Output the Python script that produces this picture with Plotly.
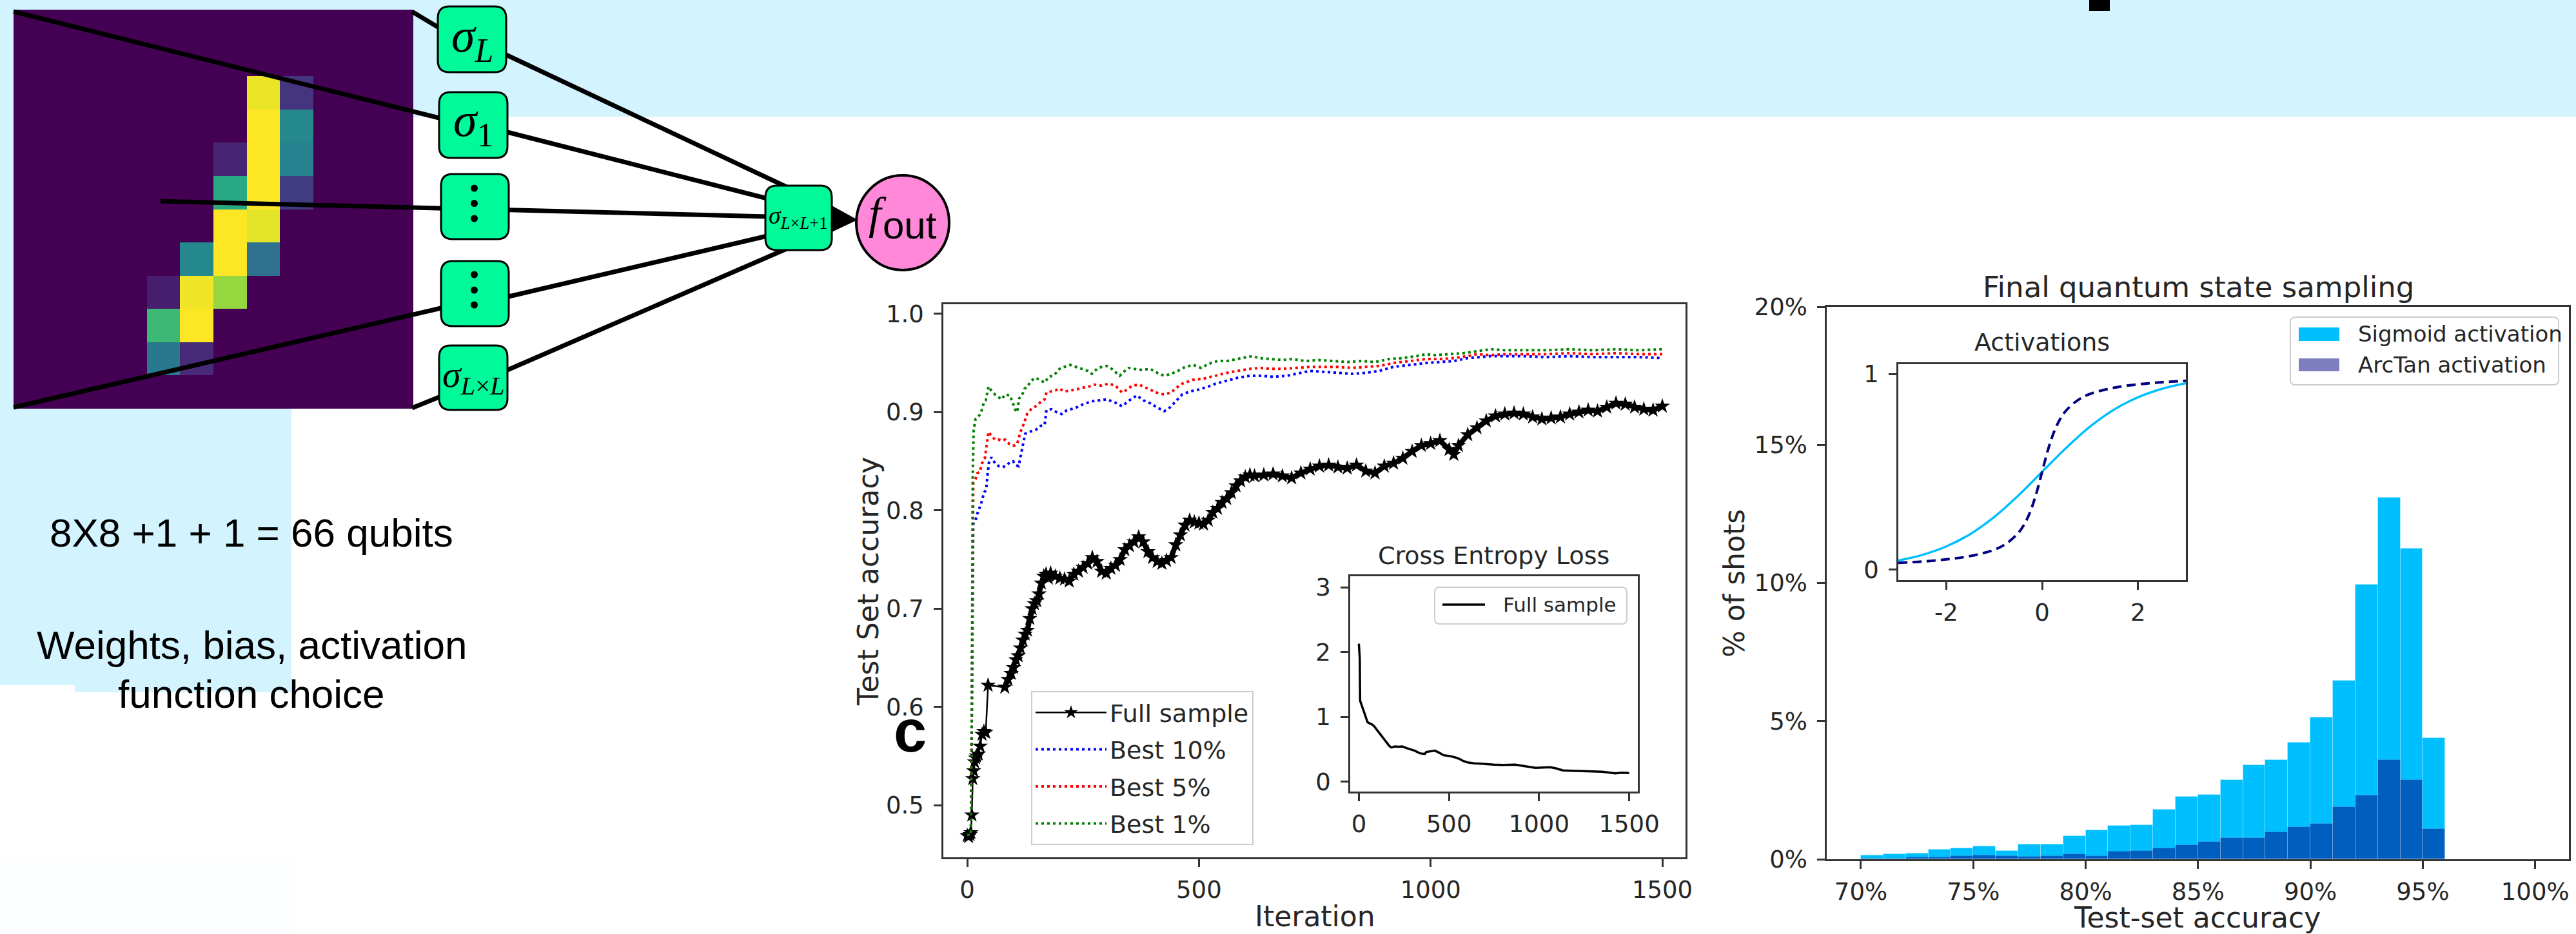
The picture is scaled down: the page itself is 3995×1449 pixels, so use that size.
import plotly.graph_objects as go

W, H = 3995, 1449

# ---------------- input digit (12x12 viridis cells, row 0 = top) ----------------
digit = [[0.0] * 12 for _ in range(12)]
digit_cells = {
    (2, 7): 0.97, (2, 8): 0.15,
    (3, 7): 1.0, (3, 8): 0.47,
    (4, 6): 0.10, (4, 7): 1.0, (4, 8): 0.44,
    (5, 6): 0.60, (5, 7): 1.0, (5, 8): 0.18,
    (6, 6): 1.0, (6, 7): 0.96,
    (7, 5): 0.47, (7, 6): 1.0, (7, 7): 0.37,
    (8, 4): 0.08, (8, 5): 0.98, (8, 6): 0.84,
    (9, 4): 0.68, (9, 5): 1.0,
    (10, 4): 0.40, (10, 5): 0.12,
}
for (r, c), v in digit_cells.items():
    digit[r][c] = v

# ---------------- test-set accuracy vs iteration ----------------
full_iter = [0, 3, 6, 8, 10, 12, 14, 16, 18, 20, 24, 28, 32, 36, 40, 45, 81, 88, 95, 100,
             105, 110, 115, 120, 125, 130, 135, 140, 145, 150, 155, 160, 165, 170, 175, 180,
             190, 200, 210, 220, 230, 240, 250, 260, 270, 280, 290, 300, 310, 320, 330, 340,
             350, 360, 370, 380, 390, 400, 410, 420, 430, 440, 450, 460, 470, 480, 490, 500,
             510, 520, 530, 540, 550, 560, 570, 580, 590, 600, 610, 620, 640, 660, 680, 700,
             720, 740, 760, 780, 800, 820, 840, 860, 880, 900, 920, 940, 960, 980, 1000, 1020,
             1040, 1050, 1060, 1080, 1100, 1120, 1140, 1160, 1180, 1200, 1220, 1240, 1260, 1280,
             1300, 1320, 1340, 1360, 1380, 1400, 1420, 1440, 1460, 1480, 1500]
full_acc = [0.469, 0.468, 0.470, 0.472, 0.490, 0.527, 0.535, 0.544, 0.548, 0.550, 0.552, 0.560,
            0.572, 0.575, 0.574, 0.622, 0.620, 0.628, 0.634, 0.640, 0.648, 0.652, 0.660, 0.668,
            0.674, 0.678, 0.690, 0.700, 0.705, 0.708, 0.715, 0.726, 0.733, 0.735, 0.731, 0.736,
            0.733, 0.731, 0.730, 0.728, 0.735, 0.738, 0.742, 0.746, 0.752, 0.748, 0.738, 0.736,
            0.741, 0.744, 0.750, 0.760, 0.764, 0.768, 0.773, 0.768, 0.758, 0.752, 0.748, 0.746,
            0.749, 0.752, 0.765, 0.775, 0.785, 0.790, 0.788, 0.787, 0.786, 0.790, 0.798, 0.802,
            0.808, 0.812, 0.818, 0.825, 0.830, 0.834, 0.836, 0.835, 0.836, 0.837, 0.835, 0.833,
            0.838, 0.842, 0.845, 0.846, 0.844, 0.843, 0.846, 0.840, 0.838, 0.845, 0.848, 0.853,
            0.860, 0.866, 0.868, 0.871, 0.862, 0.857, 0.866, 0.877, 0.884, 0.891, 0.896, 0.898,
            0.899, 0.898, 0.895, 0.893, 0.894, 0.895, 0.898, 0.900, 0.902, 0.901, 0.905, 0.909,
            0.908, 0.905, 0.903, 0.902, 0.906]
# the densely logged stretch (from iteration 81 on) reads as a heavy band of stars
dense_from = full_iter.index(81)

best10_iter = [0, 8, 10, 12, 13, 18, 22, 27, 32, 36, 41, 44, 47, 52, 60, 68, 75, 83, 92, 99, 105,
               111, 118, 125, 135, 148, 158, 167, 171, 182, 193, 204, 215, 232, 250, 269, 285, 301,
               318, 334, 350, 366, 380, 395, 413, 425, 438, 452, 464, 480, 500, 520, 536, 560, 584,
               610, 632, 660, 690, 720, 739, 770, 800, 830, 860, 890, 919, 950, 990, 1020, 1050,
               1080, 1100, 1130, 1160, 1200, 1250, 1300, 1350, 1400, 1450, 1500]
best10_acc = [0.470, 0.470, 0.600, 0.760, 0.786, 0.790, 0.797, 0.803, 0.810, 0.818, 0.821, 0.837,
              0.849, 0.854, 0.848, 0.845, 0.844, 0.845, 0.849, 0.850, 0.846, 0.845, 0.860, 0.878,
              0.880, 0.882, 0.886, 0.887, 0.902, 0.903, 0.900, 0.898, 0.902, 0.904, 0.908, 0.911,
              0.912, 0.913, 0.910, 0.906, 0.912, 0.917, 0.912, 0.909, 0.904, 0.901, 0.905, 0.912,
              0.918, 0.921, 0.923, 0.926, 0.929, 0.932, 0.935, 0.937, 0.937, 0.936, 0.937, 0.940,
              0.942, 0.941, 0.940, 0.939, 0.940, 0.942, 0.946, 0.948, 0.950, 0.951, 0.952, 0.955,
              0.956, 0.957, 0.957, 0.957, 0.956, 0.957, 0.956, 0.956, 0.956, 0.955]

best5_iter = [0, 8, 10, 12, 13, 18, 22, 27, 32, 38, 43, 46, 52, 60, 68, 74, 82, 90, 96, 102, 108,
              115, 122, 129, 138, 148, 158, 167, 171, 180, 190, 199, 210, 222, 235, 250, 262, 274,
              290, 305, 320, 334, 345, 356, 371, 385, 400, 413, 425, 440, 452, 464, 476, 488, 510,
              536, 560, 584, 610, 632, 655, 679, 710, 739, 770, 799, 830, 860, 890, 919, 950, 990,
              1020, 1050, 1080, 1100, 1130, 1160, 1200, 1250, 1300, 1350, 1400, 1450, 1500]
best5_acc = [0.470, 0.470, 0.600, 0.800, 0.828, 0.832, 0.838, 0.839, 0.848, 0.853, 0.870, 0.880,
             0.876, 0.872, 0.872, 0.871, 0.872, 0.868, 0.866, 0.866, 0.868, 0.880, 0.888, 0.898,
             0.903, 0.906, 0.910, 0.913, 0.920, 0.921, 0.922, 0.924, 0.921, 0.922, 0.923, 0.925,
             0.926, 0.928, 0.927, 0.929, 0.927, 0.920, 0.923, 0.927, 0.928, 0.925, 0.922, 0.919,
             0.918, 0.920, 0.925, 0.929, 0.931, 0.933, 0.934, 0.937, 0.940, 0.942, 0.944, 0.945,
             0.944, 0.944, 0.945, 0.946, 0.946, 0.946, 0.945, 0.946, 0.947, 0.950, 0.952, 0.954,
             0.954, 0.955, 0.957, 0.959, 0.958, 0.959, 0.959, 0.959, 0.960, 0.959, 0.960, 0.959,
             0.959]

best1_iter = [0, 8, 10, 11, 12, 14, 18, 24, 30, 36, 40, 46, 52, 60, 68, 74, 82, 92, 98, 104, 108,
              112, 118, 124, 130, 138, 148, 158, 167, 176, 185, 192, 199, 210, 223, 235, 248, 260,
              269, 280, 290, 301, 312, 322, 329, 340, 348, 360, 375, 395, 410, 425, 440, 455, 470,
              488, 505, 520, 540, 560, 580, 600, 615, 630, 656, 680, 700, 730, 760, 790, 820, 850,
              880, 910, 940, 970, 990, 1010, 1040, 1070, 1100, 1130, 1160, 1200, 1250, 1300, 1350,
              1400, 1450, 1500]
best1_acc = [0.470, 0.470, 0.600, 0.800, 0.840, 0.882, 0.893, 0.895, 0.900, 0.910, 0.912, 0.926,
             0.922, 0.918, 0.915, 0.913, 0.918, 0.917, 0.910, 0.902, 0.900, 0.914, 0.917, 0.924,
             0.926, 0.932, 0.935, 0.932, 0.930, 0.936, 0.937, 0.940, 0.944, 0.946, 0.948, 0.946,
             0.944, 0.942, 0.939, 0.944, 0.946, 0.947, 0.944, 0.940, 0.937, 0.942, 0.945, 0.944,
             0.943, 0.944, 0.940, 0.937, 0.939, 0.942, 0.946, 0.948, 0.945, 0.949, 0.952, 0.952,
             0.954, 0.956, 0.957, 0.955, 0.954, 0.953, 0.954, 0.952, 0.953, 0.952, 0.951, 0.952,
             0.951, 0.954, 0.955, 0.957, 0.959, 0.958, 0.959, 0.960, 0.962, 0.964, 0.963, 0.963,
             0.963, 0.964, 0.963, 0.964, 0.963, 0.964]

# ---------------- cross-entropy loss (inset) ----------------
loss_iter = [0, 5, 7, 15, 24, 35, 48, 60, 70, 84, 100, 121, 140, 157, 170, 181, 200, 220, 241, 265,
             289, 310, 338, 366, 374, 400, 422, 445, 470, 500, 531, 560, 580, 603, 640, 675, 710,
             748, 800, 840, 868, 900, 941, 980, 1020, 1061, 1090, 1133, 1180, 1230, 1280, 1320,
             1350, 1380, 1423, 1460, 1500]
loss_val = [2.13, 1.90, 1.25, 1.18, 1.12, 1.02, 0.92, 0.90, 0.89, 0.86, 0.80, 0.73, 0.65, 0.59,
            0.55, 0.53, 0.545, 0.54, 0.545, 0.52, 0.50, 0.48, 0.44, 0.43, 0.46, 0.475, 0.48, 0.45,
            0.41, 0.40, 0.38, 0.35, 0.32, 0.30, 0.285, 0.28, 0.27, 0.264, 0.26, 0.265, 0.264, 0.25,
            0.23, 0.215, 0.22, 0.226, 0.21, 0.175, 0.17, 0.165, 0.16, 0.16, 0.155, 0.145, 0.13,
            0.14, 0.137]

# ---------------- final-state sampling histogram (1 % bins, 70 % .. 96 %) ----------------
bin_left = list(range(70, 96))
sigmoid_pct = [0.14, 0.18, 0.21, 0.35, 0.40, 0.47, 0.31, 0.53, 0.54, 0.83, 1.06, 1.21, 1.24,
               1.79, 2.27, 2.33, 2.86, 3.40, 3.59, 4.22, 5.13, 6.47, 9.95, 13.10, 11.24, 4.38]
arctan_pct = [0.03, 0.03, 0.06, 0.06, 0.11, 0.13, 0.11, 0.10, 0.11, 0.19, 0.11, 0.27, 0.30,
              0.40, 0.51, 0.63, 0.78, 0.78, 0.97, 1.16, 1.28, 1.90, 2.32, 3.60, 2.87, 1.10]

# ---------------- activation shapes (inset) ----------------
sig_x = [-3, -2.5, -2, -1.5, -1, -0.5, 0, 0.5, 1, 1.5, 2, 2.5, 3]
sig_y = [0.047, 0.076, 0.119, 0.182, 0.269, 0.378, 0.5, 0.622, 0.731, 0.818, 0.881, 0.924, 0.953]
atan_x = [-3, -2.5, -2, -1.5, -1, -0.75, -0.5, -0.375, -0.25, -0.125, 0, 0.125, 0.25, 0.375,
          0.5, 0.75, 1, 1.5, 2, 2.5, 3]
atan_y = [0.035, 0.042, 0.053, 0.070, 0.102, 0.133, 0.187, 0.231, 0.295, 0.386, 0.5, 0.614,
          0.705, 0.769, 0.813, 0.867, 0.898, 0.930, 0.947, 0.958, 0.965]

# ---------------- helpers: figure pixels -> paper coordinates ----------------
def px(x):
    return x / W


def py(y):
    return 1 - y / H


TXT = "#262626"
SANS = "DejaVu Sans"
SERIF = "Liberation Serif"
ARIAL = "Liberation Sans"


def ann(x, y, text, size, family=SANS, color=TXT, xanchor="center", angle=0, **kw):
    return dict(x=px(x), y=py(y), xref="paper", yref="paper", text=text, showarrow=False,
                xanchor=xanchor, yanchor="middle", textangle=angle,
                font=dict(size=size, family=family, color=color), **kw)


def rect(x0, y0, x1, y1, fill, layer="below", line=None):
    return dict(type="rect", xref="paper", yref="paper", x0=px(x0), x1=px(x1), y0=py(y1),
                y1=py(y0), fillcolor=fill, layer=layer,
                line=line if line else dict(width=0))


def seg(x0, y0, x1, y1, width=7, color="black"):
    return dict(type="line", xref="paper", yref="paper", x0=px(x0), y0=py(y0), x1=px(x1),
                y1=py(y1), line=dict(color=color, width=width), layer="above")


def rounded(x0, y0, x1, y1, r, fill, lw=3, lcolor="black"):
    def p(x, y):
        return f"{px(x):.6f},{py(y):.6f}"
    path = (f"M {p(x0 + r, y0)} L {p(x1 - r, y0)} Q {p(x1, y0)} {p(x1, y0 + r)} "
            f"L {p(x1, y1 - r)} Q {p(x1, y1)} {p(x1 - r, y1)} L {p(x0 + r, y1)} "
            f"Q {p(x0, y1)} {p(x0, y1 - r)} L {p(x0, y0 + r)} Q {p(x0, y0)} {p(x0 + r, y0)} Z")
    return dict(type="path", xref="paper", yref="paper", path=path, fillcolor=fill,
                line=dict(color=lcolor, width=lw), layer="above")


fig = go.Figure()

# ---------------- traces ----------------
fig.add_trace(go.Heatmap(z=digit, colorscale="Viridis", zmin=0, zmax=1, showscale=False,
                         xaxis="x5", yaxis="y5", hoverinfo="skip"))

fig.add_trace(go.Scatter(x=full_iter[dense_from:], y=full_acc[dense_from:], mode="lines",
                         showlegend=False, line=dict(color="black", width=8),
                         xaxis="x", yaxis="y", hoverinfo="skip"))
fig.add_trace(go.Scatter(x=full_iter, y=full_acc, mode="lines+markers", name="Full sample",
                         line=dict(color="black", width=2.5),
                         marker=dict(symbol="star", size=18, color="black"),
                         legendgroup="a", xaxis="x", yaxis="y"))
for xs, ys, col, nm, g in [(best10_iter, best10_acc, "#0000ff", "Best 10%", "b"),
                           (best5_iter, best5_acc, "#ff0000", "Best 5%", "c"),
                           (best1_iter, best1_acc, "#008000", "Best 1%", "d")]:
    fig.add_trace(go.Scatter(x=xs, y=ys, mode="lines", name=nm, legendgroup=g,
                             line=dict(color=col, width=4, dash="4px,5px"),
                             xaxis="x", yaxis="y"))

fig.add_trace(go.Scatter(x=loss_iter, y=loss_val, mode="lines", showlegend=False,
                         line=dict(color="black", width=3.5), xaxis="x2", yaxis="y2"))

bin_mid = [b + 0.5 for b in bin_left]
fig.add_trace(go.Bar(x=bin_mid, y=sigmoid_pct, width=1, showlegend=False,
                     marker=dict(color="#00bfff", line=dict(width=1, color="rgba(255,255,255,0.25)")),
                     xaxis="x3", yaxis="y3"))
fig.add_trace(go.Bar(x=bin_mid, y=arctan_pct, width=1, showlegend=False,
                     marker=dict(color="navy", opacity=0.5,
                                 line=dict(width=1, color="rgba(255,255,255,0.25)")),
                     xaxis="x3", yaxis="y3"))

fig.add_trace(go.Scatter(x=sig_x, y=sig_y, mode="lines", showlegend=False, line_shape="spline",
                         line=dict(color="#00bfff", width=3.5), xaxis="x4", yaxis="y4"))
fig.add_trace(go.Scatter(x=atan_x, y=atan_y, mode="lines", showlegend=False, line_shape="spline",
                         line=dict(color="navy", width=4, dash="14px,8px"), xaxis="x4", yaxis="y4"))

# ---------------- axes ----------------
axis_style = dict(showline=True, mirror=True, linecolor="#333333", linewidth=2.5,
                  ticks="outside", ticklen=12, tickwidth=2.5, tickcolor="#333333",
                  showgrid=False, zeroline=False, fixedrange=True,
                  tickfont=dict(family=SANS, size=37, color=TXT))

fig.update_layout(
    xaxis=dict(axis_style, domain=[px(1463), px(2614)], range=[-51.5, 1550],
               tickvals=[0, 500, 1000, 1500], anchor="y", ticklabelstandoff=4),
    yaxis=dict(axis_style, domain=[py(1330), py(472)], range=[0.447, 1.0098],
               tickvals=[0.5, 0.6, 0.7, 0.8, 0.9, 1.0],
               ticktext=["0.5", "0.6", "0.7", "0.8", "0.9", "1.0"], anchor="x",
               ticklabelstandoff=8),
    xaxis2=dict(axis_style, domain=[px(2094), px(2540)], range=[-48, 1548],
                tickvals=[0, 500, 1000, 1500], anchor="y2", ticklabelstandoff=4),
    yaxis2=dict(axis_style, domain=[py(1228), py(894)], range=[-0.15, 3.17],
                tickvals=[0, 1, 2, 3], anchor="x2", ticklabelstandoff=8),
    xaxis3=dict(axis_style, domain=[px(2833), px(3984)], range=[68.48, 101.5],
                tickvals=[70, 75, 80, 85, 90, 95, 100],
                ticktext=["70%", "75%", "80%", "85%", "90%", "95%", "100%"], anchor="y3",
                ticklabelstandoff=4),
    yaxis3=dict(axis_style, domain=[py(1333), py(476)], range=[0, 20],
                tickvals=[0, 5, 10, 15, 20], ticktext=["0%", "5%", "10%", "15%", "20%"],
                anchor="x3", ticklabelstandoff=8),
    xaxis4=dict(axis_style, domain=[px(2944), px(3390)], range=[-3.0, 3.0],
                tickvals=[-2, 0, 2], ticktext=["-2", "0", "2"], anchor="y4",
                ticklabelstandoff=4),
    yaxis4=dict(axis_style, domain=[py(900), py(565)], range=[-0.053, 1.05],
                tickvals=[0, 1], ticktext=["0", "1"], anchor="x4", ticklabelstandoff=8),
    xaxis5=dict(domain=[px(21), px(641)], range=[-0.5, 11.5], visible=False, anchor="y5",
                fixedrange=True),
    yaxis5=dict(domain=[py(634), py(15)], range=[11.5, -0.5], visible=False, anchor="x5",
                fixedrange=True),
)

fig.update_layout(
    width=W, height=H, autosize=False,
    margin=dict(l=0, r=0, t=0, b=0, pad=0, autoexpand=False),
    paper_bgcolor="white", plot_bgcolor="rgba(0,0,0,0)",
    barmode="overlay", bargap=0,
    showlegend=True,
    legend=dict(x=px(1599), y=py(1072), xanchor="left", yanchor="top",
                bgcolor="rgba(255,255,255,0.85)", bordercolor="#cccccc", borderwidth=2,
                font=dict(family=SANS, size=38, color=TXT), itemwidth=110, tracegroupgap=5),
)

# ---------------- background panels and network sketch ----------------
shapes = [
    rect(0, 0, W, 181, "#d3f4fe"),
    rect(0, 0, 452, 1063, "#d3f4fe"),
    rect(116, 1063, 452, 1074, "#d3f4fe"),
    rect(0, 1330, 452, H, "rgba(211,244,254,0.08)"),
    rect(3240, 0, 3272, 17, "black"),
]

# connections (drawn first so the nodes sit on top)
shapes += [
    seg(21, 18, 681, 183),
    seg(639, 18, 679, 42),
    seg(249, 312, 1190, 336),
    seg(21, 632, 684, 478),
    seg(639, 633, 681, 616),
    seg(785, 85, 1220, 290),
    seg(787, 205, 1190, 308),
    seg(789, 460, 1190, 366),
    seg(787, 574, 1220, 386),
    seg(1288, 339, 1320, 340),
]
arrow_path = f"M {px(1290)},{py(319)} L {px(1330)},{py(341)} L {px(1290)},{py(360)} Z"
shapes.append(dict(type="path", xref="paper", yref="paper", path=arrow_path,
                   fillcolor="black", line=dict(width=0), layer="above"))

node_boxes = [(679, 10, 785, 112), (681, 143, 787, 245), (684, 270, 789, 371),
              (684, 405, 789, 506), (681, 536, 787, 636), (1187, 288, 1290, 388)]
for b in node_boxes:
    shapes.append(rounded(*b, 18, "#00fa9a"))

shapes.append(dict(type="circle", xref="paper", yref="paper", x0=px(1328), x1=px(1472),
                   y0=py(419), y1=py(272), fillcolor="#ff88d8",
                   line=dict(color="black", width=4), layer="above"))

# vertical ellipsis dots inside the two middle nodes
for cy in (292, 315.5, 339, 426, 450, 473):
    shapes.append(dict(type="circle", xref="paper", yref="paper", x0=px(730), x1=px(741),
                       y0=py(cy + 5.5), y1=py(cy - 5.5), fillcolor="black",
                       line=dict(width=0), layer="above"))

# legend for the loss inset
shapes.append(rounded(2225, 911, 2523, 968, 8, "rgba(255,255,255,0.85)", lw=2, lcolor="#cccccc"))
shapes.append(seg(2237, 938, 2303, 938, width=3.5))
# legend for the histogram
shapes.append(rounded(3552, 492, 3968, 597, 8, "rgba(255,255,255,0.85)", lw=2, lcolor="#cccccc"))
shapes.append(rect(3565, 508, 3628, 529, "#00bfff", layer="above"))
shapes.append(rect(3565, 556, 3628, 576, "rgba(0,0,128,0.5)", layer="above"))

fig.update_layout(shapes=shapes)

annotations = [
    # network node labels
    ann(732, 60, "<i>σ</i><sub><i>L</i></sub>", 74, family=SERIF, color="black"),
    ann(734, 192, "<i>σ</i><sub>1</sub>", 74, family=SERIF, color="black"),
    ann(734, 584, "<i>σ</i><sub><i>L</i>×<i>L</i></sub>", 58, family=SERIF, color="black"),
    ann(1238, 337, "<i>σ</i><sub><i>L</i>×<i>L</i>+1</sub>", 38, family=SERIF, color="black"),
    ann(1361, 330, "<i>f</i>", 70, family=SERIF, color="black"),
    ann(1411, 350, "out", 60, family=ARIAL, color="black"),
    # notes under the sketch
    ann(390, 826, "8X8 +1 + 1 = 66 qubits", 62, family=ARIAL, color="black"),
    ann(390, 1000, "Weights, bias, activation", 62, family=ARIAL, color="black"),
    ann(390, 1076, "function choice", 62, family=ARIAL, color="black"),
    # accuracy panel
    ann(2039, 1421, "Iteration", 44),
    ann(1346, 902, "Test Set accuracy", 44, angle=-90),
    ann(2316, 862, "Cross Entropy Loss", 38),
    ann(2329, 938, "Full sample", 31, xanchor="left"),
    ann(1411, 1134, "<b>c</b>", 92, family=ARIAL, color="black"),
    # histogram panel
    ann(3409, 445, "Final quantum state sampling", 45),
    ann(3407, 1423, "Test-set accuracy", 44),
    ann(2689, 905, "% of shots", 44, angle=-90),
    ann(3167, 531, "Activations", 38),
    ann(3655, 518, "Sigmoid activation", 34, xanchor="left"),
    ann(3655, 566, "ArcTan activation", 34, xanchor="left"),
]
fig.update_layout(annotations=annotations)

fig.write_html("out.html", config={"responsive": False, "displayModeBar": False},
               post_script="document.body.style.margin='0px';")
